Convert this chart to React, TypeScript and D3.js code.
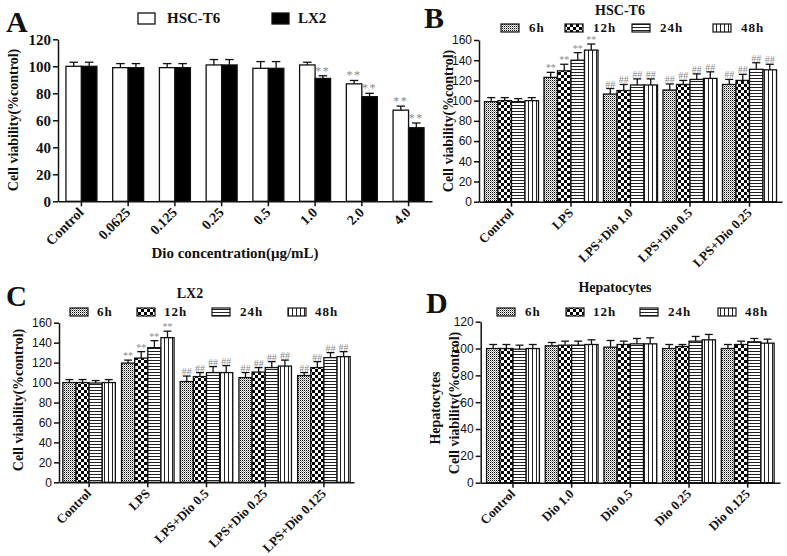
import { useEffect, useRef } from 'react';
import * as d3 from 'd3';

// ---- data ----
const doseLabels = ['Control', '0.0625', '0.125', '0.25', '0.5', '1.0', '2.0', '4.0'];
const hscT6Values = [100, 99, 99, 101, 98.5, 101, 87, 67.5];
const hscT6Errors = [3, 3, 3, 4, 5, 2, 2.5, 3];
const hscT6Marks = ['', '', '', '', '', '', '**', '**'];
const lx2Values = [100, 99, 99, 101, 98.5, 91, 77.5, 54.5];
const lx2Errors = [3, 3, 3, 4, 5, 2, 2.5, 3.5];
const lx2Marks = ['', '', '', '', '', '**', '**', '**'];

const timeLabels = ['6h', '12h', '24h', '48h'];

const hscGroups = ['Control', 'LPS', 'LPS+Dio 1.0', 'LPS+Dio 0.5', 'LPS+Dio 0.25'];
const hsc6h = [99, 123, 106.5, 110.5, 116];
const hsc6hErr = [4, 5, 5.5, 6, 5];
const hsc12h = [100, 129.5, 110, 116, 120];
const hsc12hErr = [3, 6.5, 6, 4, 6];
const hsc24h = [99, 140, 115.5, 121, 131];
const hsc24hErr = [3, 7.5, 6, 5.5, 6.5];
const hsc48h = [100, 150, 115.5, 122, 130.5];
const hsc48hErr = [3, 6, 6, 6.5, 5.5];
const hscMarks = ['', '**', '##', '##', '##'];

const lx2Groups = ['Control', 'LPS', 'LPS+Dio 0.5', 'LPS+Dio 0.25', 'LPS+Dio 0.125'];
const lx26h = [100, 119.5, 101, 105, 107];
const lx26hErr = [3, 3, 5.5, 5, 3];
const lx212h = [100, 124.5, 106, 110.5, 115];
const lx212hErr = [3, 6.5, 4, 4.5, 6];
const lx224h = [99.5, 135, 110, 115, 125];
const lx224hErr = [2.5, 7, 6, 6, 5];
const lx248h = [100, 145, 110, 116.5, 126];
const lx248hErr = [3, 6.5, 7, 6, 5];
const lx2TimeMarks = ['', '**', '##', '##', '##'];

const hepGroups = ['Control', 'Dio 1.0', 'Dio 0.5', 'Dio 0.25', 'Dio 0.125'];
const hep6h = [100, 102, 101, 100, 100];
const hep6hErr = [3, 2.5, 5, 3, 3];
const hep12h = [100, 102.5, 103, 101.5, 103];
const hep12hErr = [3, 3, 2.5, 1.5, 2.5];
const hep24h = [99.5, 102.5, 103.5, 105.5, 105];
const hep24hErr = [3, 3, 4, 3.5, 2.5];
const hep48h = [100, 103, 103.5, 106.5, 104];
const hep48hErr = [3, 3.5, 4.5, 4, 3];
const hepMarks = ['', '', '', '', ''];

const ticks120 = [0, 20, 40, 60, 80, 100, 120];
const ticks160 = [0, 20, 40, 60, 80, 100, 120, 140, 160];

const SERIF = '"Liberation Serif", "Times New Roman", serif';
const SANS = '"Liberation Sans", Arial, sans-serif';
const timeFills = ['url(#p6h)', 'url(#p12h)', 'url(#p24h)', 'url(#p48h)'];

interface Series { values: number[]; errors: number[]; marks: string[]; fill: string; }

interface PanelCfg {
  x0: number; x1: number; y0: number; y1: number;
  max: number; ticks: number[];
  groups: string[]; series: Series[];
  padInner: number; padOuter: number;
  tickFont: string; tickSize: number; tickWeight: string;
  labelSize: number; markSize: number; markSpacing: number; capRatio: number;
}

function drawPanel(svg: d3.Selection<SVGSVGElement, unknown, null, undefined>, c: PanelCfg) {
  const g = svg.append('g');
  const x = d3.scaleBand().domain(c.groups).range([c.x0, c.x1]).paddingInner(c.padInner).paddingOuter(c.padOuter);
  const xs = d3.scaleBand().domain(c.series.map((_, i) => String(i))).range([0, x.bandwidth()]);
  const y = d3.scaleLinear().domain([0, c.max]).range([c.y0, c.y1]);

  c.series.forEach((s, si) => {
    const bars = g.append('g');
    bars.selectAll('rect')
      .data(c.groups)
      .join('rect')
      .attr('x', (d) => (x(d) || 0) + (xs(String(si)) || 0))
      .attr('y', (_, i) => y(s.values[i]))
      .attr('width', xs.bandwidth())
      .attr('height', (_, i) => c.y0 - y(s.values[i]))
      .attr('fill', s.fill)
      .attr('stroke', '#111')
      .attr('stroke-width', 1.3);

    const cap = xs.bandwidth() * c.capRatio;
    c.groups.forEach((d, i) => {
      const cx = (x(d) || 0) + (xs(String(si)) || 0) + xs.bandwidth() / 2;
      const top = y(s.values[i] + s.errors[i]);
      bars.append('line').attr('x1', cx).attr('x2', cx).attr('y1', y(s.values[i])).attr('y2', top)
        .attr('stroke', '#111').attr('stroke-width', 1.3);
      bars.append('line').attr('x1', cx - cap / 2).attr('x2', cx + cap / 2).attr('y1', top).attr('y2', top)
        .attr('stroke', '#111').attr('stroke-width', 1.3);
      if (s.marks[i]) {
        bars.append('text').attr('x', cx).attr('y', top - 1)
          .attr('text-anchor', 'middle')
          .attr('font-family', SERIF).attr('font-size', c.markSize)
          .attr('letter-spacing', c.markSpacing)
          .attr('fill', '#8a8a8a')
          .text(s.marks[i]);
      }
    });
  });

  // y axis
  const ya = g.append('g').attr('transform', `translate(${c.x0},0)`)
    .call(d3.axisLeft(y).tickValues(c.ticks).tickSize(5).tickSizeOuter(0).tickPadding(2));
  ya.selectAll('path, line').attr('stroke', '#111').attr('stroke-width', 1.5);
  ya.selectAll('text')
    .attr('font-family', c.tickFont).attr('font-size', c.tickSize)
    .attr('font-weight', c.tickWeight).attr('fill', '#111');

  // x axis
  const xa = g.append('g').attr('transform', `translate(0,${c.y0})`)
    .call(d3.axisBottom(x).tickSize(5).tickSizeOuter(0).tickFormat(() => ''));
  xa.selectAll('path, line').attr('stroke', '#111').attr('stroke-width', 1.5);

  c.groups.forEach((d) => {
    const cx = (x(d) || 0) + x.bandwidth() / 2;
    g.append('text')
      .attr('transform', `translate(${cx + 3},${c.y0 + 12}) rotate(-45)`)
      .attr('text-anchor', 'end')
      .attr('font-family', SERIF).attr('font-weight', 'bold')
      .attr('font-size', c.labelSize).attr('fill', '#111')
      .text(d);
  });
}

function drawText(svg: d3.Selection<SVGSVGElement, unknown, null, undefined>, x: number, y: number, t: string, size: number, anchor = 'start', rotate = 0, family = SERIF) {
  svg.append('text')
    .attr('transform', `translate(${x},${y}) rotate(${rotate})`)
    .attr('text-anchor', anchor)
    .attr('font-family', family).attr('font-weight', 'bold')
    .attr('font-size', size).attr('fill', '#111')
    .text(t);
}

function timeLegend(svg: d3.Selection<SVGSVGElement, unknown, null, undefined>, boxX: number[], textX: number[], top: number) {
  timeLabels.forEach((lab, i) => {
    svg.append('rect').attr('x', boxX[i]).attr('y', top).attr('width', 18).attr('height', 8)
      .attr('fill', timeFills[i]).attr('stroke', '#111').attr('stroke-width', 1.2);
    svg.append('text').attr('x', textX[i]).attr('y', top + 8)
      .attr('font-family', SERIF).attr('font-weight', 'bold').attr('font-size', 13)
      .attr('letter-spacing', 1).attr('fill', '#111').text(lab);
  });
}

function Figure() {
  const ref = useRef<SVGSVGElement>(null);

  useEffect(() => {
    if (!ref.current) return;
    const svg = d3.select(ref.current);
    svg.selectAll('*').remove();

    // patterns
    const defs = svg.append('defs');
    const p6 = defs.append('pattern').attr('id', 'p6h').attr('patternUnits', 'userSpaceOnUse').attr('width', 2).attr('height', 2);
    p6.append('rect').attr('width', 2).attr('height', 2).attr('fill', '#fff');
    p6.append('rect').attr('width', 1).attr('height', 1).attr('fill', '#000');
    p6.append('rect').attr('x', 1).attr('y', 1).attr('width', 1).attr('height', 1).attr('fill', '#9a9a9a');
    const p12 = defs.append('pattern').attr('id', 'p12h').attr('patternUnits', 'userSpaceOnUse').attr('width', 6).attr('height', 6);
    p12.append('rect').attr('width', 6).attr('height', 6).attr('fill', '#fff');
    p12.append('rect').attr('width', 3).attr('height', 3).attr('fill', '#000');
    p12.append('rect').attr('x', 3).attr('y', 3).attr('width', 3).attr('height', 3).attr('fill', '#000');
    const p24 = defs.append('pattern').attr('id', 'p24h').attr('patternUnits', 'userSpaceOnUse').attr('width', 3).attr('height', 3);
    p24.append('rect').attr('width', 3).attr('height', 3).attr('fill', '#fff');
    p24.append('rect').attr('width', 3).attr('height', 1).attr('fill', '#222');
    const p48 = defs.append('pattern').attr('id', 'p48h').attr('patternUnits', 'userSpaceOnUse').attr('width', 4).attr('height', 4);
    p48.append('rect').attr('width', 4).attr('height', 4).attr('fill', '#fff');
    p48.append('rect').attr('width', 1).attr('height', 4).attr('fill', '#222');

    // Panel A
    drawPanel(svg, {
      x0: 58, x1: 432, y0: 201.3, y1: 39.3, max: 120, ticks: ticks120,
      groups: doseLabels,
      series: [
        { values: hscT6Values, errors: hscT6Errors, marks: hscT6Marks, fill: '#fff' },
        { values: lx2Values, errors: lx2Errors, marks: lx2Marks, fill: '#000' },
      ],
      padInner: 0.337, padOuter: 0.17,
      tickFont: SERIF, tickSize: 15, tickWeight: 'bold', labelSize: 14, markSize: 12, markSpacing: 1.5, capRatio: 0.55,
    });
    drawText(svg, 6, 32, 'A', 30);
    drawText(svg, 18, 120, 'Cell viability(%control)', 14, 'middle', -90);
    drawText(svg, 235, 258, 'Dio concentration(μg/mL)', 15, 'middle');
    svg.append('rect').attr('x', 138).attr('y', 13).attr('width', 17).attr('height', 11).attr('fill', '#fff').attr('stroke', '#111').attr('stroke-width', 1.3);
    drawText(svg, 167, 23, 'HSC-T6', 15);
    svg.append('rect').attr('x', 272).attr('y', 13).attr('width', 17).attr('height', 11).attr('fill', '#000').attr('stroke', '#111').attr('stroke-width', 1.3);
    drawText(svg, 298, 23, 'LX2', 15);

    // Panel B
    drawPanel(svg, {
      x0: 479, x1: 782, y0: 201.7, y1: 40, max: 160, ticks: ticks160,
      groups: hscGroups,
      series: [
        { values: hsc6h, errors: hsc6hErr, marks: hscMarks, fill: timeFills[0] },
        { values: hsc12h, errors: hsc12hErr, marks: hscMarks, fill: timeFills[1] },
        { values: hsc24h, errors: hsc24hErr, marks: hscMarks, fill: timeFills[2] },
        { values: hsc48h, errors: hsc48hErr, marks: hscMarks, fill: timeFills[3] },
      ],
      padInner: 0.092, padOuter: 0.092,
      tickFont: SANS, tickSize: 12, tickWeight: 'normal', labelSize: 13, markSize: 10, markSpacing: 0, capRatio: 0.6,
    });
    drawText(svg, 424, 28, 'B', 30);
    drawText(svg, 620, 15, 'HSC-T6', 14, 'middle');
    drawText(svg, 453, 121, 'Cell viability(%control)', 14, 'middle', -90);
    timeLegend(svg, [501, 565, 632, 713], [529, 593, 660, 741], 24);

    // Panel C
    drawPanel(svg, {
      x0: 59, x1: 354, y0: 482.3, y1: 322.7, max: 160, ticks: ticks160,
      groups: lx2Groups,
      series: [
        { values: lx26h, errors: lx26hErr, marks: lx2TimeMarks, fill: timeFills[0] },
        { values: lx212h, errors: lx212hErr, marks: lx2TimeMarks, fill: timeFills[1] },
        { values: lx224h, errors: lx224hErr, marks: lx2TimeMarks, fill: timeFills[2] },
        { values: lx248h, errors: lx248hErr, marks: lx2TimeMarks, fill: timeFills[3] },
      ],
      padInner: 0.105, padOuter: 0.065,
      tickFont: SANS, tickSize: 12, tickWeight: 'normal', labelSize: 13, markSize: 10, markSpacing: 0, capRatio: 0.6,
    });
    drawText(svg, 6, 306, 'C', 29);
    drawText(svg, 190, 298, 'LX2', 14, 'middle');
    drawText(svg, 23, 400, 'Cell viability(%control)', 14, 'middle', -90);
    timeLegend(svg, [70, 137, 212, 288], [97, 164, 240, 315], 308);

    // Panel D
    drawPanel(svg, {
      x0: 480.7, x1: 780, y0: 482.7, y1: 321.7, max: 120, ticks: ticks120,
      groups: hepGroups,
      series: [
        { values: hep6h, errors: hep6hErr, marks: hepMarks, fill: timeFills[0] },
        { values: hep12h, errors: hep12hErr, marks: hepMarks, fill: timeFills[1] },
        { values: hep24h, errors: hep24hErr, marks: hepMarks, fill: timeFills[2] },
        { values: hep48h, errors: hep48hErr, marks: hepMarks, fill: timeFills[3] },
      ],
      padInner: 0.1, padOuter: 0.1,
      tickFont: SANS, tickSize: 12, tickWeight: 'normal', labelSize: 13, markSize: 10, markSpacing: 0, capRatio: 0.6,
    });
    drawText(svg, 426, 313, 'D', 30);
    drawText(svg, 615, 292, 'Hepatocytes', 14, 'middle');
    drawText(svg, 440, 408, 'Hepatocytes', 14, 'middle', -90);
    drawText(svg, 459, 403, 'Cell viability(%control)', 14, 'middle', -90);
    timeLegend(svg, [497, 566, 640, 718], [525, 593, 668, 745], 308);
  }, []);

  return (
    <svg
      ref={ref}
      width={787}
      height={556}
      style={{ position: 'absolute', left: 0, top: 0, background: '#fff' }}
    />
  );
}

export default function App() {
  return <Figure />;
}
